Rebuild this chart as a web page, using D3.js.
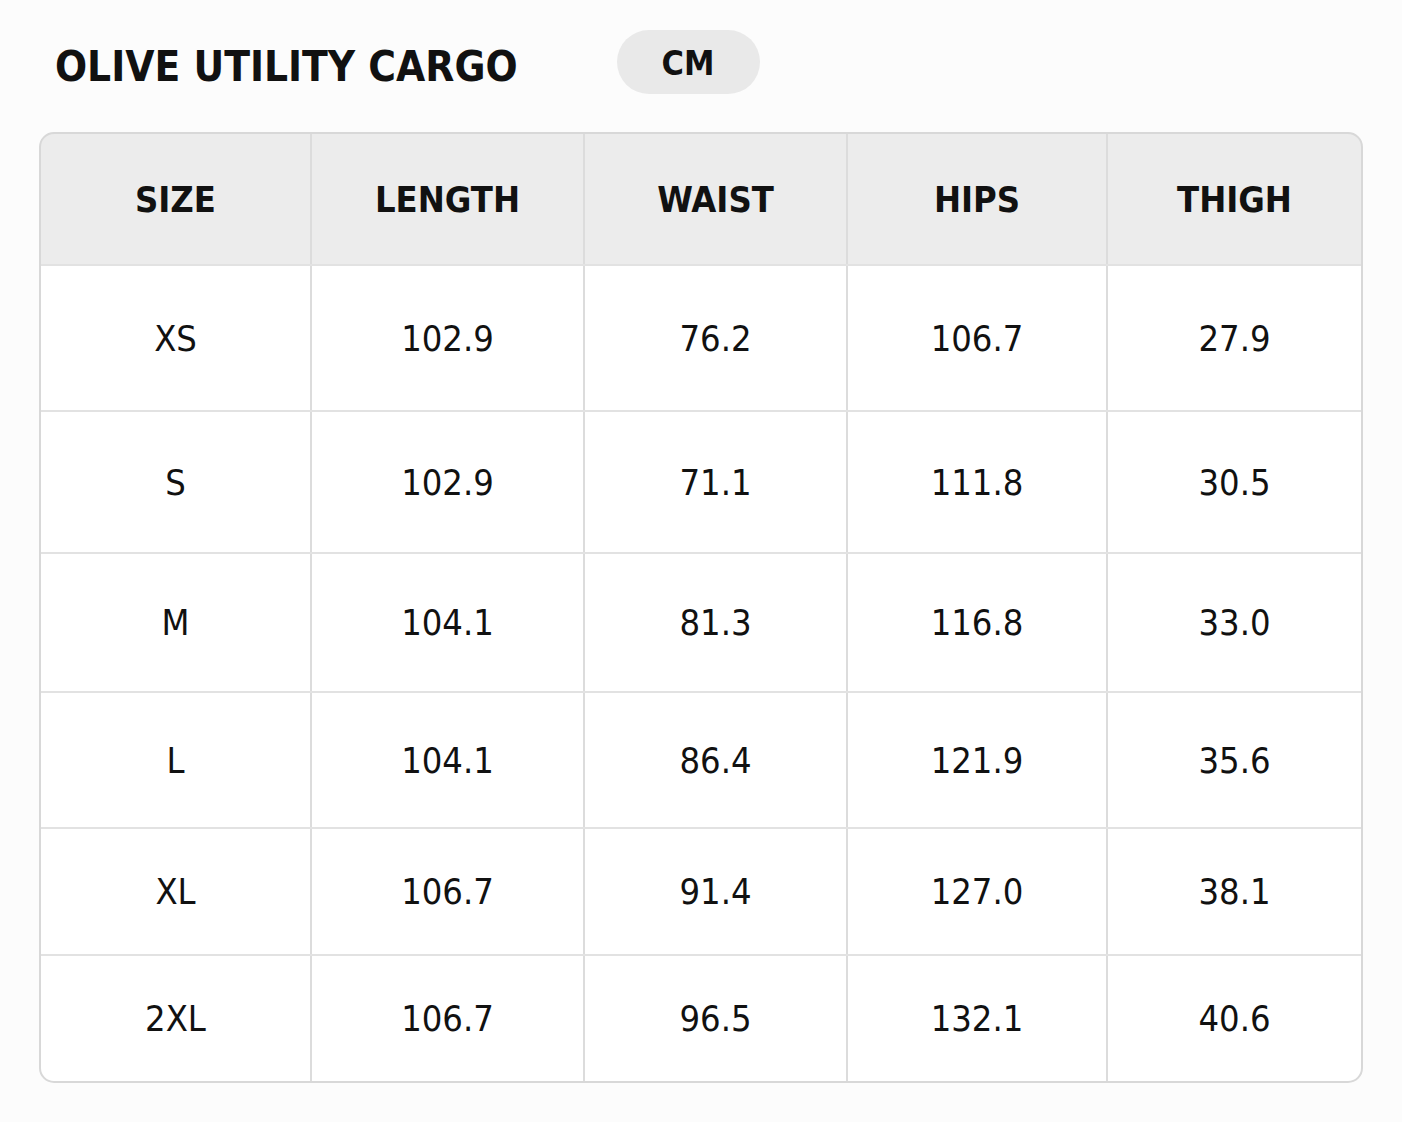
<!DOCTYPE html>
<html><head><meta charset="utf-8">
<script src="https://cdn.jsdelivr.net/npm/d3@7"></script>
<style>body{margin:0;background:#fcfcfc;}</style>
</head><body><svg id="chart" width="1402" height="1122"></svg>
<script>
// DATA
const TITLE = 'OLIVE UTILITY CARGO';
const UNIT = 'CM';
const columns = ['SIZE', 'LENGTH', 'WAIST', 'HIPS', 'THIGH'];
const sizes = ['XS', 'S', 'M', 'L', 'XL', '2XL'];
const length = ['102.9', '102.9', '104.1', '104.1', '106.7', '106.7'];
const waist = ['76.2', '71.1', '81.3', '86.4', '91.4', '96.5'];
const hips = ['106.7', '111.8', '116.8', '121.9', '127.0', '132.1'];
const thigh = ['27.9', '30.5', '33.0', '35.6', '38.1', '40.6'];

// LAYOUT
const colEdges = [40, 311, 584, 847, 1107, 1362];
const rowEdges = [133, 265, 411, 553, 692, 828, 955, 1082];
const FONT = '"DejaVu Sans Condensed", "DejaVu Sans", sans-serif';

function main() {
	const svg = d3.select('#chart');
	const rows = sizes.map((s, i) => [s, length[i], waist[i], hips[i], thigh[i]]);

	svg.append('text').attr('x', 55).attr('y', 81)
		.attr('font-family', FONT).attr('font-weight', 'bold').attr('font-size', 42)
		.attr('fill', '#111').text(TITLE);

	svg.append('rect').attr('x', 617).attr('y', 30).attr('width', 143).attr('height', 64)
		.attr('rx', 32).attr('fill', '#e9e9e9');
	svg.append('text').attr('x', 688).attr('y', 63).attr('dy', '0.35em')
		.attr('text-anchor', 'middle').attr('font-family', FONT).attr('font-weight', 'bold')
		.attr('font-size', 34).attr('fill', '#111').text(UNIT);

	const x0 = colEdges[0], x1 = colEdges[colEdges.length - 1];
	const y0 = rowEdges[0], y1 = rowEdges[rowEdges.length - 1];

	svg.append('defs').append('clipPath').attr('id', 'clip')
		.append('rect').attr('x', x0).attr('y', y0).attr('width', x1 - x0).attr('height', y1 - y0).attr('rx', 14);

	const g = svg.append('g').attr('clip-path', 'url(#clip)');
	g.append('rect').attr('x', x0).attr('y', y0).attr('width', x1 - x0).attr('height', y1 - y0).attr('fill', '#fff');
	g.append('rect').attr('x', x0).attr('y', y0).attr('width', x1 - x0).attr('height', rowEdges[1] - y0).attr('fill', '#ececec');

	// grid lines
	g.selectAll('line.v').data(colEdges.slice(1, -1)).join('line')
		.attr('x1', d => d).attr('x2', d => d).attr('y1', y0).attr('y2', y1)
		.attr('stroke', '#dcdcdc').attr('stroke-width', 2);
	g.selectAll('line.h').data(rowEdges.slice(1, -1)).join('line')
		.attr('x1', x0).attr('x2', x1).attr('y1', d => d).attr('y2', d => d)
		.attr('stroke', '#e2e2e2').attr('stroke-width', 2);

	svg.append('rect').attr('x', x0).attr('y', y0).attr('width', x1 - x0).attr('height', y1 - y0)
		.attr('rx', 14).attr('fill', 'none').attr('stroke', '#d8d8d8').attr('stroke-width', 2);

	const cx = i => (colEdges[i] + colEdges[i + 1]) / 2;
	const cy = j => (rowEdges[j] + rowEdges[j + 1]) / 2;

	svg.selectAll('text.head').data(columns).join('text')
		.attr('x', (d, i) => cx(i)).attr('y', cy(0)).attr('dy', '0.36em')
		.attr('text-anchor', 'middle').attr('font-family', FONT).attr('font-weight', 'bold')
		.attr('font-size', 36).attr('fill', '#111').text(d => d);

	rows.forEach((r, j) => {
		svg.selectAll('text.r' + j).data(r).join('text')
			.attr('x', (d, i) => cx(i)).attr('y', cy(j + 1)).attr('dy', '0.36em')
			.attr('text-anchor', 'middle').attr('font-family', FONT)
			.attr('font-size', 36).attr('fill', '#111').text(d => d);
	});
}

window.addEventListener('load', main);
</script></body></html>
